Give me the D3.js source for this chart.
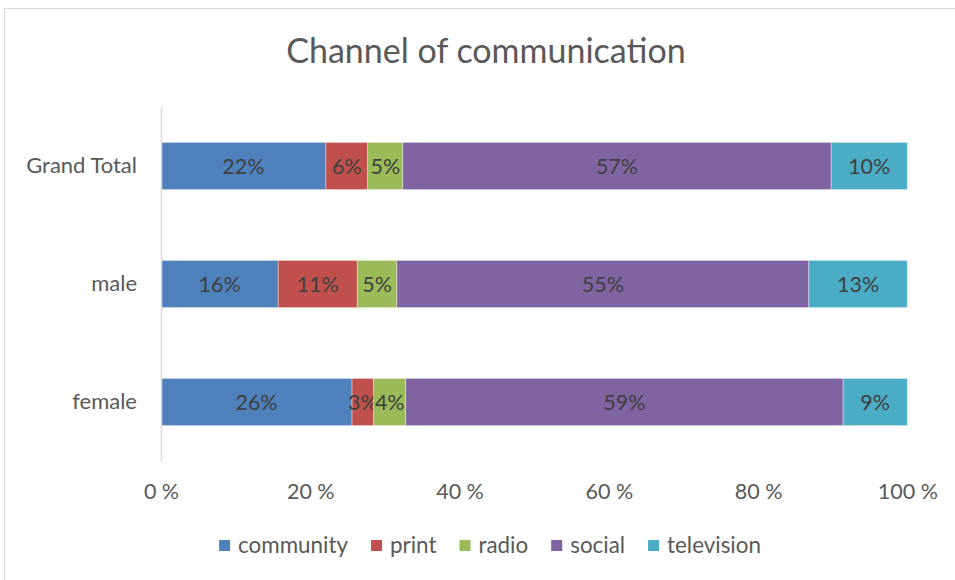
<!DOCTYPE html>
<html>
<head>
<meta charset="utf-8">
<script src="https://cdn.jsdelivr.net/npm/d3@7"></script>
<style>
  html, body { margin: 0; padding: 0; background: #fff; }
  svg { display: block; }
  text { font-family: Lato, "Open Sans", sans-serif; }
</style>
</head>
<body>
<svg id="chart" width="955" height="580"></svg>
<script>
// Share of each communication channel per group (percent)
const groups = ["Grand Total", "male", "female"];
const channels = ["community", "print", "radio", "social", "television"];
const community  = [22.1, 15.7, 25.6];
const print      = [5.6, 10.6, 2.9];
const radio      = [4.7, 5.3, 4.3];
const social     = [57.4, 55.2, 58.6];
const television = [10.2, 13.2, 8.6];
const xTicks = [0, 20, 40, 60, 80, 100];
const colors = ["#4F81BD", "#C0504D", "#9BBB59", "#8064A2", "#4BACC6"];

const seriesValues = { community, print, radio, social, television };
const rows = groups.map((g, i) => {
  const r = { group: g };
  channels.forEach(c => { r[c] = seriesValues[c][i]; });
  return r;
});

const svg = d3.select("#chart");
const labelSize = "21.5px";

// chart frame
svg.append("rect")
  .attr("x", 4.5).attr("y", 8.5)
  .attr("width", 1000).attr("height", 600)
  .attr("fill", "#fff").attr("stroke", "#d9d9d9").attr("stroke-width", 1);

const plot = { left: 161, right: 907.3, top: 107, bottom: 461 };

const x = d3.scaleLinear().domain([0, 100]).range([plot.left, plot.right]);
const y = d3.scaleBand().domain(groups)
  .range([plot.top, plot.bottom])
  .paddingInner(0.6).paddingOuter(0.3);
const color = d3.scaleOrdinal().domain(channels).range(colors);

// title
svg.append("text")
  .attr("x", 486).attr("y", 63)
  .attr("text-anchor", "middle")
  .attr("fill", "#595959")
  .style("font-size", "34px")
  .text("Channel of communication");

// stacked bars
const stack = d3.stack().keys(channels);
const layers = stack(rows);

const layerG = svg.append("g").selectAll("g")
  .data(layers).join("g")
  .attr("fill", d => color(d.key));

layerG.selectAll("rect")
  .data(d => d)
  .join("rect")
  .attr("x", d => x(d[0]))
  .attr("y", d => y(d.data.group))
  .attr("width", d => x(d[1]) - x(d[0]))
  .attr("height", y.bandwidth())
  .attr("stroke", "#ffffff")
  .attr("stroke-opacity", 0.5)
  .attr("stroke-width", 0.75);

// data labels
layerG.selectAll("text")
  .data(d => d.map(v => ({ v, key: d.key })))
  .join("text")
  .attr("x", d => (x(d.v[0]) + x(d.v[1])) / 2)
  .attr("y", d => y(d.v.data.group) + y.bandwidth() / 2)
  .attr("dy", "0.35em")
  .attr("text-anchor", "middle")
  .attr("fill", "#404040")
  .style("font-size", labelSize)
  .text(d => Math.round(d.v[1] - d.v[0]) + "%");

// category axis
const yAxis = svg.append("g")
  .attr("transform", `translate(${plot.left},0)`)
  .call(d3.axisLeft(y).tickSize(0).tickPadding(24));
yAxis.select(".domain").attr("stroke", "#d9d9d9").attr("stroke-width", 1.5);
yAxis.selectAll("text")
  .attr("fill", "#595959")
  .style("font-size", "22px");

// value axis (labels only)
const xAxis = svg.append("g")
  .attr("transform", `translate(0,${plot.bottom})`)
  .call(d3.axisBottom(x).tickValues(xTicks).tickSize(0).tickPadding(23)
    .tickFormat(d => d + " %"));
xAxis.select(".domain").remove();
xAxis.selectAll("text")
  .attr("fill", "#595959")
  .style("font-size", labelSize);

// legend
const legend = svg.append("g");
const gap = 23;
let cursor = 0;
channels.forEach(c => {
  const g = legend.append("g");
  g.append("rect").attr("width", 11).attr("height", 11).attr("y", -5).attr("fill", color(c));
  const t = g.append("text").attr("x", 19).attr("dy", "0.35em")
    .attr("fill", "#595959").style("font-size", "22.4px").text(c);
  const w = 19 + t.node().getComputedTextLength();
  g.attr("transform", `translate(${cursor},0)`);
  cursor += w + gap;
});
const totalW = cursor - gap;
legend.attr("transform", `translate(${490 - totalW / 2},545)`);
</script>
</body>
</html>
